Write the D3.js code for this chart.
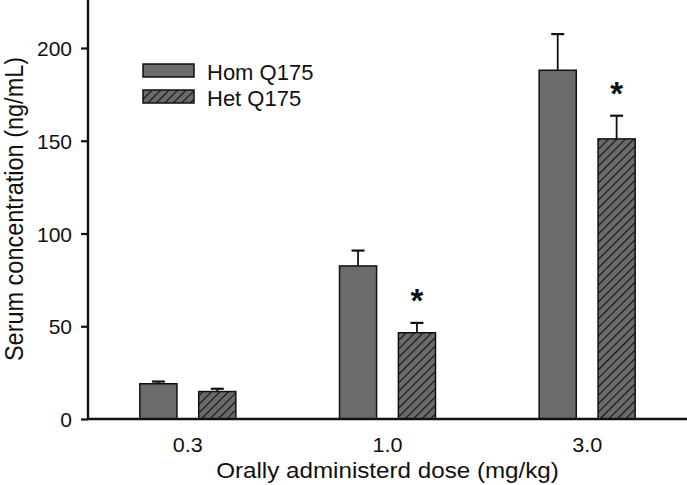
<!DOCTYPE html>
<html>
<head>
<meta charset="utf-8">
<title>Serum concentration</title>
<script src="https://cdnjs.cloudflare.com/ajax/libs/d3/7.8.5/d3.min.js"></script>
<style>
body { margin: 0; background: #fff; }
text { font-family: "Liberation Sans", Arial, sans-serif; fill: #111; }
</style>
</head>
<body>
<script>
// data
var doses = ["0.3", "1.0", "3.0"];
var series = ["Hom Q175", "Het Q175"];
var homMean = [19, 82.5, 188];
var homErr = [1.2, 8.3, 19.5];
var hetMean = [14.8, 46.5, 151];
var hetErr = [1.5, 5.3, 12.5];
var significant = [false, true, true]; // star above Het bar
var yTicks = [0, 50, 100, 150, 200];

var w = 687, h = 485;
var x0 = 88, y0 = 419;

var svg = d3.select("body").append("svg")
    .attr("width", w)
    .attr("height", h);

var defs = svg.append("defs");
var pat = defs.append("pattern")
    .attr("id", "hatch")
    .attr("patternUnits", "userSpaceOnUse")
    .attr("width", 6).attr("height", 6)
    .attr("patternTransform", "rotate(45)");
pat.append("rect").attr("width", 6).attr("height", 6).attr("fill", "#6b6b6b");
pat.append("line")
    .attr("x1", 0).attr("y1", 0).attr("x2", 0).attr("y2", 6)
    .attr("stroke", "#111").attr("stroke-width", 2.2);

var x = d3.scaleBand().domain(doses).range([x0, w]).padding(0);
var y = d3.scaleLinear().domain([0, 200]).range([y0, 48]);

var sub = d3.scaleBand().domain(series).range([-48, 48]).paddingInner(0.37).paddingOuter(0);

var rows = [];
doses.forEach(function(d, i) {
  rows.push({dose: d, s: series[0], v: homMean[i], e: homErr[i], star: false});
  rows.push({dose: d, s: series[1], v: hetMean[i], e: hetErr[i], star: significant[i]});
});

function bx(r) { return x(r.dose) + x.bandwidth() / 2 + sub(r.s); }
function fillOf(s) { return s == series[0] ? "#6b6b6b" : "url(#hatch)"; }

// error bars (upper only)
var eb = svg.append("g");
eb.selectAll("line.v").data(rows).enter().append("line")
    .attr("x1", function(r) { return bx(r) + sub.bandwidth() / 2; })
    .attr("x2", function(r) { return bx(r) + sub.bandwidth() / 2; })
    .attr("y1", function(r) { return y(r.v); })
    .attr("y2", function(r) { return y(r.v + r.e); })
    .attr("stroke", "#111").attr("stroke-width", 1.8);
eb.selectAll("line.c").data(rows).enter().append("line")
    .attr("x1", function(r) { return bx(r) + sub.bandwidth() / 2 - 6.5; })
    .attr("x2", function(r) { return bx(r) + sub.bandwidth() / 2 + 6.5; })
    .attr("y1", function(r) { return y(r.v + r.e); })
    .attr("y2", function(r) { return y(r.v + r.e); })
    .attr("stroke", "#111").attr("stroke-width", 2.2);

// bars
svg.append("g").selectAll("rect").data(rows).enter().append("rect")
    .attr("x", bx)
    .attr("y", function(r) { return y(r.v); })
    .attr("width", sub.bandwidth())
    .attr("height", function(r) { return y(0) - y(r.v); })
    .attr("fill", function(r) { return fillOf(r.s); })
    .attr("stroke", "#111").attr("stroke-width", 1.5);

// significance stars
svg.append("g").selectAll("text").data(rows.filter(function(r) { return r.star; })).enter()
    .append("text")
    .attr("x", function(r) { return bx(r) + sub.bandwidth() / 2; })
    .attr("y", function(r) { return y(r.v + r.e) - 11; })
    .attr("text-anchor", "middle")
    .style("font-size", "33px").style("font-weight", "bold")
    .text("*");

// y axis
var yAxis = d3.axisLeft(y).tickValues(yTicks).tickSize(7).tickPadding(9);
var gy = svg.append("g").attr("transform", "translate(" + x0 + ",0)").call(yAxis);
gy.select(".domain").attr("d", "M0," + y0 + "V0").attr("stroke", "#111").attr("stroke-width", 2.4);
gy.selectAll(".tick line").attr("stroke", "#111").attr("stroke-width", 2.2);
gy.selectAll(".tick text").style("font-size", "21px").attr("dy", "0.36em");

// x axis, no ticks
var xAxis = d3.axisBottom(x).tickSize(0).tickPadding(19);
var gx = svg.append("g").attr("transform", "translate(0," + y0 + ")").call(xAxis);
gx.select(".domain").attr("d", "M" + x0 + ",0H" + w).attr("stroke", "#111").attr("stroke-width", 2.4);
gx.selectAll(".tick text").style("font-size", "20px")
    .attr("transform", "scale(1.08,1)");

// axis titles
svg.append("text")
    .attr("transform", "translate(" + (x(doses[1]) + x.bandwidth() / 2) + ",478) scale(1.1,1)")
    .attr("text-anchor", "middle")
    .style("font-size", "22px")
    .text("Orally administerd dose (mg/kg)");

svg.append("text")
    .attr("transform", "translate(23,209) scale(1.12,1) rotate(-90)")
    .attr("text-anchor", "middle")
    .style("font-size", "23.5px")
    .text("Serum concentration (ng/mL)");

// legend
var leg = svg.append("g").attr("transform", "translate(143,64)");
var li = leg.selectAll("g").data(series).enter().append("g")
    .attr("transform", function(d, i) { return "translate(0," + (i * 26) + ")"; });
li.append("rect")
    .attr("width", 51).attr("height", 13)
    .attr("fill", fillOf)
    .attr("stroke", "#111").attr("stroke-width", 1.5);
li.append("text")
    .attr("x", 64).attr("y", 16)
    .style("font-size", "22px")
    .text(function(d) { return d; });
</script>
</body>
</html>
